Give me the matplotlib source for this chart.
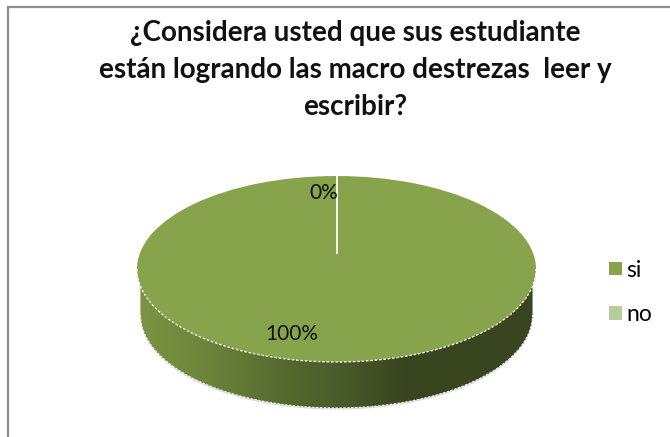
import numpy as np
import matplotlib
matplotlib.use('Agg')
import matplotlib.pyplot as plt
from matplotlib.colors import LinearSegmentedColormap
from matplotlib.patches import PathPatch
from matplotlib.path import Path

title = ['¿Considera usted que sus estudiante',
         'están logrando las macro destrezas  leer y',
         'escribir?']
categories = ['si', 'no']
values = [100, 0]
labels = ['100%', '0%']
colors = ['#87A44D', '#B7CF96']

W, H = 670, 437
plt.rcParams['font.family'] = ['Lato', 'DejaVu Sans']

fig = plt.figure(figsize=(W / 100, H / 100), dpi=100)

# pixel coordinates for frame and side of the pie
bg = fig.add_axes([0, 0, 1, 1])
bg.set_xlim(0, W)
bg.set_ylim(H, 0)
bg.axis('off')

bg.plot([8, 8, W], [H, 7, 7], color='#8C8C8C', lw=1.6, solid_joinstyle='miter')

# side of the pie, lower half of a shifted ellipse
t = np.linspace(np.pi, 0, 200)
lo_x = 336.5 + 196 * np.cos(t)
lo_y = 315 + 93 * np.sin(t)
top_x = 336.5 + 196 * np.cos(t[::-1])
top_y = 269 + 93 * np.sin(t[::-1]) * 0.5
side = Path(np.column_stack([np.r_[lo_x, top_x], np.r_[lo_y, top_y]]))

# soft shadow under the side
shadow = PathPatch(Path(side.vertices + [0, 1.5]), fc='#BDBDBD', ec='none', alpha=0.6)
bg.add_patch(shadow)

stops = [(0.0, '#7A9442'), (0.16, '#6D863B'), (0.37, '#55692F'),
         (0.5, '#4A5C2B'), (0.67, '#39461F'), (1.0, '#38451E')]
cmap = LinearSegmentedColormap.from_list('side', stops)
im = bg.imshow(np.linspace(0, 1, 256)[None, :], cmap=cmap, aspect='auto',
               extent=[140, 533, 408, 280], zorder=2)
clip = PathPatch(side, fc='none', ec='none', transform=bg.transData)
bg.add_patch(clip)
im.set_clip_path(clip)
bg.plot(lo_x, lo_y, color='white', lw=0.8, ls=(0, (2, 1.5)), zorder=3)
bg.set_xlim(0, W)
bg.set_ylim(H, 0)

# pie top, squashed by using a non equal axes
ax = fig.add_axes([137 / W, 1 - 362 / H, 399 / W, 186 / H])
wedges, _ = ax.pie(values, colors=colors, startangle=90, counterclock=False, radius=1)
ax.set_aspect('auto')
ax.set_xlim(-1, 1)
ax.set_ylim(-1, 1)
ax.patch.set_alpha(0)
edge = np.linspace(np.pi, 2 * np.pi, 200)
ax.plot(np.cos(edge), np.sin(edge), color='white', lw=0.9, ls=(0, (2, 1.5)), clip_on=False)

# zero slice shows as a white line from the top
bg2 = fig.add_axes([0, 0, 1, 1])
bg2.set_xlim(0, W)
bg2.set_ylim(H, 0)
bg2.axis('off')
bg2.plot([336.5, 336.5], [176, 253], color='white', lw=1.3)
bg2.text(324, 193, labels[1], fontsize=15, ha='center', va='center', color='#111111')
bg2.text(292, 334, labels[0], fontsize=15, ha='center', va='center', color='#111111')

for line, y in zip(title, [41, 78, 115]):
    bg2.text(355, y, line, fontsize=20, fontweight='bold', ha='center', va='baseline', color='#111111')

fig.legend(wedges, categories, loc='center left', bbox_to_anchor=(609 / W, 1 - 292.5 / H), frameon=False,
           fontsize=16.5, handlelength=0.55, handleheight=0.55, handletextpad=0.22,
           labelspacing=1.03, borderpad=0, borderaxespad=0)

fig.savefig('out.png', dpi=100)
